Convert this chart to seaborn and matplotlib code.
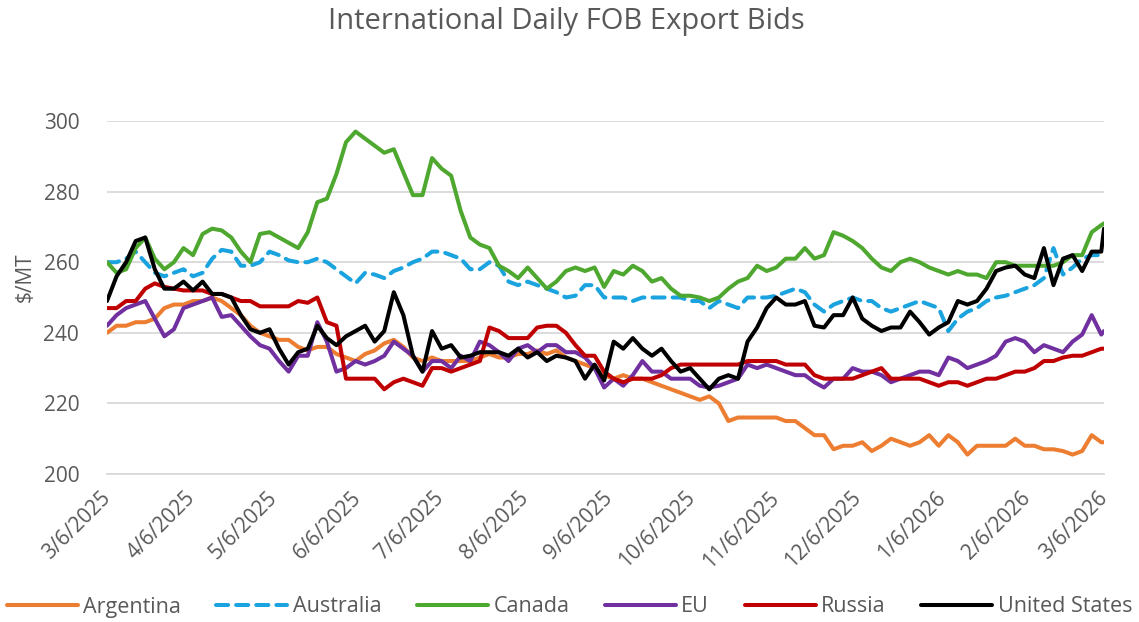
import pandas as pd
import seaborn as sns
import matplotlib.pyplot as plt

# readings twice a week (every 3.5 days) from 3/6/2025, plus the last day 3/6/2026
dates = list(pd.date_range('2025-03-06', periods=105, freq='84h')) + [pd.Timestamp('2026-03-06')]

argentina = [240, 242, 242, 243, 243, 244, 247, 248, 248, 249, 249, 250, 249, 247, 245, 242, 240, 239, 238, 238,
             236, 235, 236, 236, 234, 233,
             232, 234, 235, 237, 238, 236, 233, 232, 233, 232, 232, 232, 232, 233, 234, 233, 233, 234, 234, 235,
             234, 235, 233, 232, 231, 230, 228,
             227, 228, 227, 227, 226, 225, 224, 223, 222, 221, 222, 220, 215, 216, 216, 216, 216, 216, 215, 215,
             213, 211, 211, 207, 208, 208,
             209, 206.5, 208, 210, 209, 208, 209, 211, 208, 211, 209, 205.5, 208, 208, 208, 208, 210, 208, 208,
             207, 207, 206.5, 205.5, 206.5, 211, 209, 209]
australia = [260, 260, 261, 263, 260, 257, 256, 257, 258, 256, 257, 261, 263.5, 263, 259, 259, 260, 263, 262, 260.5,
             260, 260, 261, 260, 258, 256,
             254, 257, 256.5, 255.5, 257.5, 258.5, 260, 261, 263, 263, 262, 261, 258, 258, 260, 259, 254.5, 253.5,
             254.5, 253.5, 252.5, 251.5, 250, 250.5, 253.5, 253.5, 250,
             250, 250, 249, 250, 250, 250, 250, 250, 249, 249, 247, 249, 248, 247, 250, 250, 250, 250.5, 251.5,
             252.5, 251.5, 248, 246, 248, 249, 250,
             249, 249, 247, 246, 247, 248, 249, 248, 247, 240.5, 244, 246, 247, 249, 250, 250.5, 251.5, 252.5,
             253.5, 255.5, 264, 256.5, 258.5, 261, 262, 262, 263]
canada = [260, 257, 258, 264, 267, 261, 258, 260, 264, 262, 268, 269.5, 269, 267, 263, 260, 268, 268.5, 267, 265.5,
          264, 268.5, 277, 278, 285, 294,
          297, 295, 293, 291, 292, 285.5, 279, 279, 289.5, 286.5, 284.5, 274.5, 267, 265, 264, 259, 257.5, 255.5,
          258.5, 255.5, 252.5, 254.5, 257.5, 258.5, 257.5, 258.5, 253,
          257.5, 256.5, 259, 257.5, 254.5, 255.5, 252.5, 250.5, 250.5, 250, 249, 250, 252.5, 254.5, 255.5, 259,
          257.5, 258.5, 261, 261, 264, 261, 262, 268.5, 267.5, 266,
          264, 261, 258.5, 257.5, 260, 261, 260, 258.5, 257.5, 256.5, 257.5, 256.5, 256.5, 255.5, 260, 260,
          259, 259, 259, 259, 259, 260, 262, 262, 268.5, 270.5, 271]
eu = [242, 245, 247, 248, 249, 244, 239, 241, 247, 248, 249, 250, 244.5, 245, 242, 239, 236.5, 235.5, 232, 229,
      233.5, 233.5, 243, 237.5, 229, 230,
      232, 231, 232, 233.5, 237.5, 235.5, 233.5, 229, 232, 232, 230, 233.5, 232, 237.5, 236.5, 234.5, 232, 235.5,
      236.5, 234.5, 236.5, 236.5, 234.5, 234.5, 233, 230, 224.5,
      227, 225, 228, 232, 229, 229, 227, 227, 227, 225, 224.5, 225, 226, 227, 231, 230, 231, 230, 229, 228,
      228, 226, 224.5, 227, 227, 230,
      229, 229, 228, 226, 227, 228, 229, 229, 228, 233, 232, 230, 231, 232, 233.5, 237.5, 238.5, 237.5,
      234.5, 236.5, 235.5, 234.5, 237.5, 239.5, 245, 239.5, 240.5]
russia = [247, 247, 249, 249, 252.5, 254, 253, 252.5, 252, 252, 252, 251, 251, 250, 249, 249, 247.5, 247.5, 247.5,
          247.5, 249, 248.5, 250, 243, 242, 227,
          227, 227, 227, 224, 226, 227, 226, 225, 230, 230, 229, 230, 231, 232, 241.5, 240.5, 238.5, 238.5, 238.5,
          241.5, 242, 242, 240, 236.5, 233.5, 233.5, 229,
          227, 226, 227, 227, 227, 228, 230, 231, 231, 231, 231, 231, 231, 231, 232, 232, 232, 232, 231, 231,
          231, 228, 227, 227, 227, 227,
          228, 229, 230, 227, 227, 227, 227, 226, 225, 226, 226, 225, 226, 227, 227, 228, 229, 229, 230,
          232, 232, 233, 233.5, 233.5, 234.5, 235.5, 235.5]
united_states = [249, 256, 260, 266, 267, 258, 252.5, 252.5, 254.5, 252, 254.5, 251, 251, 250, 245, 241, 240, 241,
                 235.5, 231, 234.5, 235.5, 242, 238.5, 236.5, 239,
                 240.5, 242, 237.5, 240.5, 251.5, 245, 233.5, 229, 240.5, 235.5, 236.5, 233, 233.5, 234.5, 234.5,
                 234.5, 233.5, 235.5, 233, 234.5, 232, 233.5, 233, 232, 227, 231, 226.5,
                 237.5, 235.5, 238.5, 235.5, 233.5, 235.5, 232, 229, 230, 227, 224, 227, 228, 227, 237.5, 241.5,
                 247, 250, 248, 248, 249, 242, 241.5, 245, 245, 250,
                 244, 242, 240.5, 241.5, 241.5, 246, 243, 239.5, 241.5, 243, 249, 248, 249, 252.5, 257.5, 258.5,
                 259, 256.5, 255.5, 264, 253.5, 261, 262, 257.5, 263, 263, 269.5]

series_names = ['Argentina', 'Australia', 'Canada', 'EU', 'Russia', 'United States']
series_values = [argentina, australia, canada, eu, russia, united_states]
series_colors = ['#ED7D31', '#1AA3DE', '#4EA72E', '#7030A0', '#C00000', '#000000']

tick_dates = pd.date_range('2025-03-06', '2026-03-06', freq=pd.DateOffset(months=1))
tick_labels = [f'{d.month}/{d.day}/{d.year}' for d in tick_dates]
y_ticks = [200, 220, 240, 260, 280, 300]

GRAY = '#595959'

sns.set_style('white')
plt.rcParams['font.family'] = ['Open Sans', 'DejaVu Sans']

fig = plt.figure(figsize=(11.39, 6.22), dpi=100)
ax = fig.add_axes([107 / 1139, 1 - 474 / 622, 997 / 1139, 353 / 622])

for name, vals, col in zip(series_names, series_values, series_colors):
    ls = (0, (3, 2)) if name == 'Australia' else '-'
    sns.lineplot(x=dates, y=vals, ax=ax, color=col, lw=2.9, label=name,
                 linestyle=ls, dash_capstyle='round', solid_capstyle='round')

ax.set_xlim(dates[0], dates[-1])
ax.set_ylim(200, 300)
ax.set_yticks(y_ticks)
ax.set_yticklabels([str(v) for v in y_ticks], fontsize=15, color=GRAY)
ax.set_xticks(tick_dates)
ax.set_xticklabels(tick_labels, rotation=45, ha='right', va='center',
                   rotation_mode='anchor', fontsize=15, color=GRAY)
ax.tick_params(axis='y', length=0, pad=20)
ax.tick_params(axis='x', length=5, width=1.2, color='#bfbfbf', direction='out', pad=10)
ax.yaxis.grid(True, color='#d9d9d9', lw=1.3)
ax.set_axisbelow(True)
for side in ['top', 'right', 'left']:
    ax.spines[side].set_visible(False)
ax.spines['bottom'].set_color('#d9d9d9')
ax.spines['bottom'].set_linewidth(1.3)
ax.set_xlabel('')
ax.set_ylabel('')

fig.text(25 / 1139, 1 - 277 / 622, '$/MT', rotation=90, ha='center', va='center',
         fontsize=15, color=GRAY)
fig.text(566 / 1139, 1 - 21 / 622, 'International Daily FOB Export Bids', ha='center',
         va='center', fontsize=21, color=GRAY)

handles, labels = ax.get_legend_handles_labels()
ax.get_legend().remove()
fig.legend(handles, labels, ncol=6, loc='center left', bbox_to_anchor=(0.002, 1 - 607 / 622),
           frameon=False, fontsize=15.5, labelcolor=GRAY, handlelength=3.3,
           handletextpad=0.25, columnspacing=1.65, borderaxespad=0, borderpad=0.2)

fig.savefig('out.png', dpi=100)
